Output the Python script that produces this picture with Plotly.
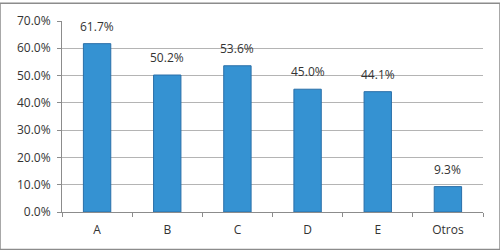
import plotly.graph_objects as go

categories = ["A", "B", "C", "D", "E", "Otros"]
values = [61.7, 50.2, 53.6, 45.0, 44.1, 9.3]
y_ticks = [0, 10, 20, 30, 40, 50, 60, 70]
y_tick_labels = [f"{v:.1f}%" for v in y_ticks]

fig = go.Figure()
fig.add_trace(go.Bar(
    x=categories, y=values, width=0.39,
    marker=dict(color="#3592d2", line=dict(color="#2a6fa8", width=1)),
    hoverinfo="skip",
))
for c, v in zip(categories, values):
    fig.add_annotation(x=c, y=v, text=f"{v:.1f}%", showarrow=False,
                       yanchor="bottom", yshift=7,
                       font=dict(family="Open Sans", size=12, color="#333333"))

fig.update_layout(
    width=500, height=250,
    margin=dict(l=62, r=17, t=18, b=38),
    paper_bgcolor="white", plot_bgcolor="white",
    showlegend=False,
    font=dict(family="Open Sans", size=12, color="#333333"),
    shapes=[dict(type="rect", xref="paper", yref="paper",
                 x0=-62/421, x1=1+17/421, y0=-38/194, y1=1+18/194,
                 line=dict(color="#8c8c8c", width=1.5))],
)
fig.update_xaxes(
    showline=True, linecolor="#8c8c8c", linewidth=1,
    ticks="outside", ticklen=4, tickcolor="#8c8c8c", tickson="boundaries",
    showgrid=False, range=[-0.5, 5.5], ticklabelstandoff=7,
)
fig.update_yaxes(
    range=[0, 70], tickvals=y_ticks, ticktext=y_tick_labels,
    showline=True, linecolor="#8c8c8c", linewidth=1,
    ticks="outside", ticklen=4, tickcolor="#8c8c8c",
    showgrid=True, gridcolor="#b4b4b4", gridwidth=1,
    zeroline=False, ticklabelstandoff=4,
)
fig.write_html("out.html")
